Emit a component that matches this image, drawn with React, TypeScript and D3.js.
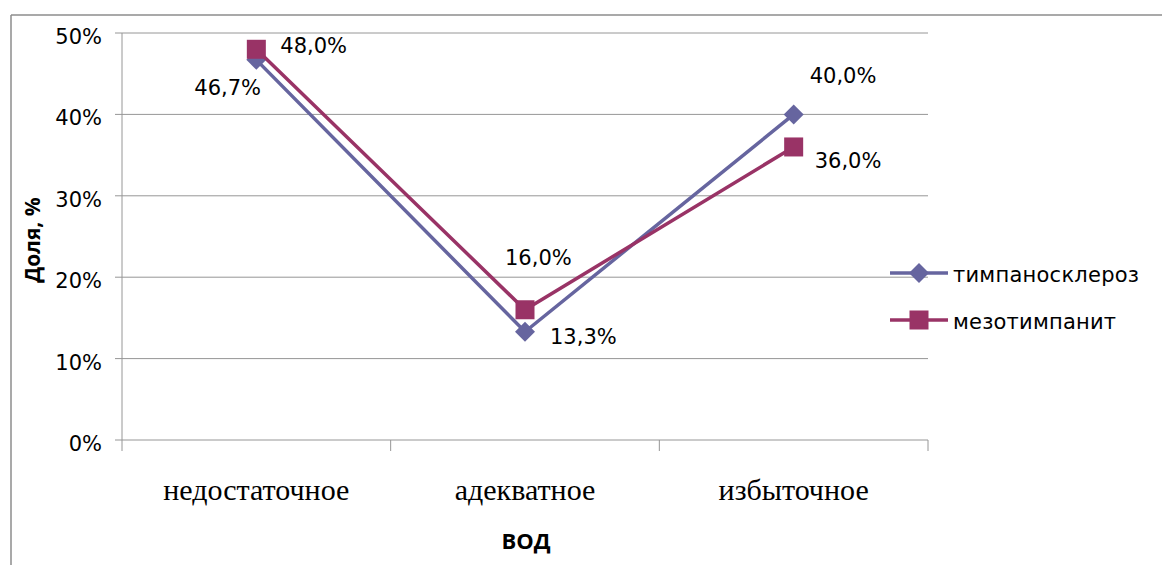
import React from "react";
import * as d3 from "d3";

const categories = ["недостаточное", "адекватное", "избыточное"];
const seriesNames = ["тимпаносклероз", "мезотимпанит"];
const tympanosclerosis = [46.7, 13.3, 40.0];
const mesotympanitis = [48.0, 16.0, 36.0];
const yTicks = [0, 10, 20, 30, 40, 50];

const W = 1162;
const H = 565;
const plot = { left: 122, right: 928, top: 33, bottom: 440 };
const COLORS = ["#66659f", "#993366"];
const sans = "'DejaVu Sans', 'Noto Sans', sans-serif";
const boldSans = "'Open Sans', 'Noto Sans', sans-serif";

const fmt = (v: number) => v.toFixed(1).replace(".", ",") + "%";

export default function App() {
  const x = d3
    .scaleBand<string>()
    .domain(categories)
    .range([plot.left, plot.right]);
  const cx = (c: string) => (x(c) ?? 0) + x.bandwidth() / 2;
  const y = d3.scaleLinear().domain([0, 50]).range([plot.bottom, plot.top]);

  const line = d3
    .line<number>()
    .x((_, i) => cx(categories[i]))
    .y((d) => y(d));

  const series = [tympanosclerosis, mesotympanitis];

  // label offsets per series / point (dx, dy from the marker centre)
  const labelPos = [
    [
      { dx: -62, dy: 35 },
      { dx: 25, dy: 12 },
      { dx: 16, dy: -31 },
    ],
    [
      { dx: 24, dy: 4 },
      { dx: -20, dy: -45 },
      { dx: 21, dy: 21 },
    ],
  ];

  const diamond = (px: number, py: number, r: number) =>
    `M${px},${py - r}L${px + r},${py}L${px},${py + r}L${px - r},${py}Z`;

  const boundaries = [...categories.map((c) => x(c) ?? 0), plot.right];

  return (
    <svg
      width={W}
      height={H}
      style={{ position: "fixed", left: 0, top: 0, background: "#fff" }}
    >
      {/* outer frame */}
      <line x1={11} y1={15} x2={W} y2={15} stroke="#8c8c8c" strokeWidth={1.5} />
      <line x1={11} y1={15} x2={11} y2={H} stroke="#8c8c8c" strokeWidth={1.5} />

      {/* gridlines and y ticks */}
      {yTicks.map((t) => (
        <g key={t}>
          <line
            x1={plot.left - 7}
            x2={plot.right}
            y1={y(t)}
            y2={y(t)}
            stroke="#969696"
            strokeWidth={1}
          />
          <text
            x={102}
            y={y(t) + 11}
            textAnchor="end"
            fontFamily={sans}
            fontSize={21}
            fill="#000"
          >
            {t}%
          </text>
        </g>
      ))}
      {/* y axis */}
      <line
        x1={plot.left}
        x2={plot.left}
        y1={plot.top}
        y2={plot.bottom}
        stroke="#969696"
      />
      {/* x ticks */}
      {boundaries.map((b, i) => (
        <line
          key={i}
          x1={b}
          x2={b}
          y1={plot.bottom}
          y2={plot.bottom + 11}
          stroke="#969696"
        />
      ))}
      {categories.map((c) => (
        <text
          key={c}
          x={cx(c)}
          y={500}
          textAnchor="middle"
          fontFamily="'Liberation Serif', 'Times New Roman', serif"
          fontSize={30}
          fill="#000"
        >
          {c}
        </text>
      ))}

      {/* axis titles */}
      <text
        x={526}
        y={549}
        textAnchor="middle"
        fontFamily={boldSans}
        fontWeight="bold"
        fontSize={22}
      >
        ВОД
      </text>
      <text
        transform={`translate(40, 240) rotate(-90)`}
        textAnchor="middle"
        fontFamily={boldSans}
        fontWeight="bold"
        fontSize={21}
      >
        Доля, %
      </text>

      {/* series */}
      {series.map((vals, si) => (
        <g key={si}>
          <path
            d={line(vals) ?? ""}
            fill="none"
            stroke={COLORS[si]}
            strokeWidth={3.5}
          />
          {vals.map((v, i) => {
            const px = cx(categories[i]);
            const py = y(v);
            return si === 0 ? (
              <path key={i} d={diamond(px, py, 10)} fill={COLORS[si]} />
            ) : (
              <rect
                key={i}
                x={px - 9.5}
                y={py - 9.5}
                width={19}
                height={19}
                fill={COLORS[si]}
              />
            );
          })}
        </g>
      ))}

      {/* data labels */}
      {series.map((vals, si) =>
        vals.map((v, i) => {
          const p = labelPos[si][i];
          return (
            <text
              key={`${si}-${i}`}
              x={cx(categories[i]) + p.dx}
              y={y(v) + p.dy}
              fontFamily={sans}
              fontSize={21}
              fill="#000"
            >
              {fmt(v)}
            </text>
          );
        })
      )}

      {/* legend */}
      {seriesNames.map((name, si) => {
        const ly = 273 + si * 47;
        return (
          <g key={name}>
            <line
              x1={890}
              x2={948}
              y1={ly}
              y2={ly}
              stroke={COLORS[si]}
              strokeWidth={3.5}
            />
            {si === 0 ? (
              <path d={diamond(919, ly, 10)} fill={COLORS[si]} />
            ) : (
              <rect x={909.5} y={ly - 9.5} width={19} height={19} fill={COLORS[si]} />
            )}
            <text
              x={953}
              y={ly + 9}
              fontFamily={sans}
              fontSize={21}
              textLength={si === 0 ? 186 : 163}
              lengthAdjust="spacing"
              fill="#000"
            >
              {name}
            </text>
          </g>
        );
      })}
    </svg>
  );
}
